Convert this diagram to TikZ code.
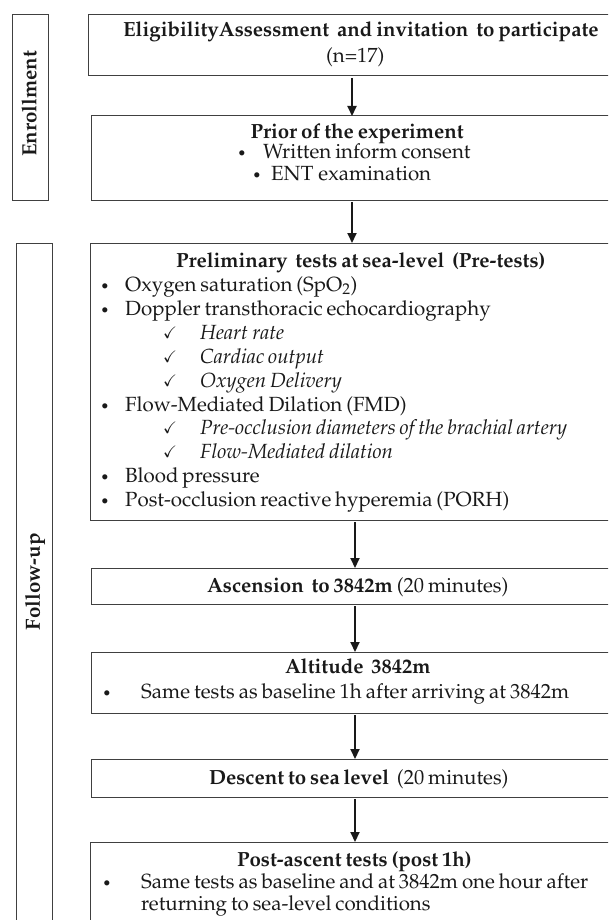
\documentclass[tikz,border=0pt]{standalone}
\usepackage[T1]{fontenc}
\usepackage{mathpazo}
\usepackage{amssymb}
\usetikzlibrary{arrows.meta}
\newcommand\fs{\fontsize{20.5}{24}\selectfont}
\newcommand\fw[2]{\makebox[#1pt][s]{#2}}
\newcommand\bul{{\fontsize{15}{15}\selectfont\textbullet}}
\newcommand\chk{{\fontsize{16}{16}\selectfont$\checkmark$}}
\begin{document}
\begin{tikzpicture}[x=1pt,y=-1pt,
  box/.style={draw=black!75, line width=1pt, rectangle, inner sep=0pt, outer sep=0pt},
  arr/.style={-{Triangle[length=10pt,width=9pt]}, line width=2pt, black!90, shorten <=2pt},
  lt/.style={inner sep=0pt, anchor=base west, font=\fs, text=black!90},
  ct/.style={inner sep=0pt, anchor=base, font=\fs, text=black!90},
  mk/.style={inner sep=0pt, anchor=base, text=black!90},
  side/.style={inner sep=0pt, rotate=90, font=\fs\bfseries, text=black!90}]
\useasboundingbox (0,0) rectangle (608,920);
\clip (0,0) rectangle (608,920);

% side boxes
\node[box, minimum width=36pt, minimum height=185pt] (enr) at (30,107.5) {};
\node[side] (enrl) at (29,107.5) {\fw{99}{Enrollment}};
\node[box, minimum width=36pt, minimum height=697pt] (fol) at (34,591.5) {};
\node[side] (foll) at (35,585) {\fw{90}{Follow-up}};

% main boxes
\node[box, minimum width=524pt, minimum height=61pt] (b1) at (350,45.5) {};
\node[box, minimum width=521pt, minimum height=84pt] (b2) at (351.5,158) {};
\node[box, minimum width=522pt, minimum height=277pt] (b3) at (351,381.5) {};
\node[box, minimum width=521pt, minimum height=36pt] (b4) at (351.5,586) {};
\node[box, minimum width=521pt, minimum height=61pt] (b5) at (351.5,682.5) {};
\node[box, minimum width=521pt, minimum height=38pt] (b6) at (351.5,778) {};
\node[box, minimum width=522pt, minimum height=98pt] (b7) at (351,891) {};

% box 1
\node[lt] (t1a) at (123,37) {\fw{447}{\bfseries EligibilityAssessment\ \ and invitation\ \ to participate}};
\node[ct] (t1b) at (352,63) {\fw{52}{(n=17)}};

% box 2
\node[ct] (t2a) at (355,139) {\fw{209}{\bfseries Prior of the experiment}};
\node[mk] (m2b) at (242,159) {\bul};
\node[lt] (t2b) at (263,159) {\fw{204}{Written inform consent}};
\node[mk] (m2c) at (257,180) {\bul};
\node[lt] (t2c) at (271,180) {ENT examination};

% box 3
\node[ct] (t3) at (353,267) {\fw{354}{\bfseries Preliminary\ \ tests at sea-level\ \ (Pre-tests)}};
\node[mk] (m31) at (105,291) {\bul};
\node[lt] (t31) at (125,291) {\fw{226}{Oxygen saturation (SpO\textsubscript{2})}};
\node[mk] (m32) at (105,315) {\bul};
\node[lt] (t32) at (125,315) {\fw{360}{Doppler transthoracic echocardiography}};
\node[mk] (m33) at (170,338) {\chk};
\node[lt] (t33) at (200,339) {\fw{84}{\itshape Heart rate}};
\node[mk] (m34) at (170,362) {\chk};
\node[lt] (t34) at (200,363) {\fw{122}{\itshape Cardiac output}};
\node[mk] (m35) at (170,386) {\chk};
\node[lt] (t35) at (200,387) {\fw{140}{\itshape Oxygen Delivery}};
\node[mk] (m36) at (105,411) {\bul};
\node[lt] (t36) at (125,411) {\fw{276}{Flow-Mediated Dilation (FMD)}};
\node[mk] (m37) at (170,433) {\chk};
\node[lt] (t37) at (200,434) {\fw{365}{\itshape Pre-occlusion diameters of the brachial artery}};
\node[mk] (m38) at (170,457) {\chk};
\node[lt] (t38) at (200,458) {\fw{189}{\itshape Flow-Mediated dilation}};
\node[mk] (m39) at (105,482) {\bul};
\node[lt] (t39) at (125,482) {\fw{132}{Blood pressure}};
\node[mk] (m310) at (105,506) {\bul};
\node[lt] (t310) at (125,506) {\fw{377}{Post-occlusion reactive hyperemia (PORH)}};

% box 4
\node[ct] (t4) at (353.5,592) {\fw{293}{\bfseries Ascension\ \ to 3842m\mdseries\ (20 minutes)}};

% box 5
\node[ct] (t5a) at (355,673) {\fw{140}{\bfseries Altitude\ \ 3842m}};
\node[mk] (m5) at (107,698) {\bul};
\node[lt] (t5b) at (141,698) {\fw{428}{Same tests as baseline 1h after arriving at 3842m}};

% box 6
\node[ct] (t6) at (354.5,784) {\fw{291}{\bfseries Descent to sea level\mdseries\ \ (20 minutes)}};

% box 7
\node[ct] (t7a) at (353.5,866) {\fw{233}{\bfseries Post-ascent tests (post 1h)}};
\node[mk] (m7) at (107,888) {\bul};
\node[lt] (t7b) at (141,888) {\fw{447}{Same tests as baseline and\ at 3842m one hour after}};
\node[lt] (t7c) at (141,910) {\fw{287}{returning to sea-level conditions}};

% arrows
\coordinate (ax1) at (352,0);
\coordinate (ax2) at (355,0);
\draw[arr] (b1.south -| ax1) -- (b2.north -| ax1);
\draw[arr] (b2.south -| ax1) -- (b3.north -| ax1);
\draw[arr] (b3.south -| ax2) -- (b4.north -| ax2);
\draw[arr] (b4.south -| ax2) -- (b5.north -| ax2);
\draw[arr] (b5.south -| ax2) -- (b6.north -| ax2);
\draw[arr] (b6.south -| ax2) -- (b7.north -| ax2);
\end{tikzpicture}
\end{document}
